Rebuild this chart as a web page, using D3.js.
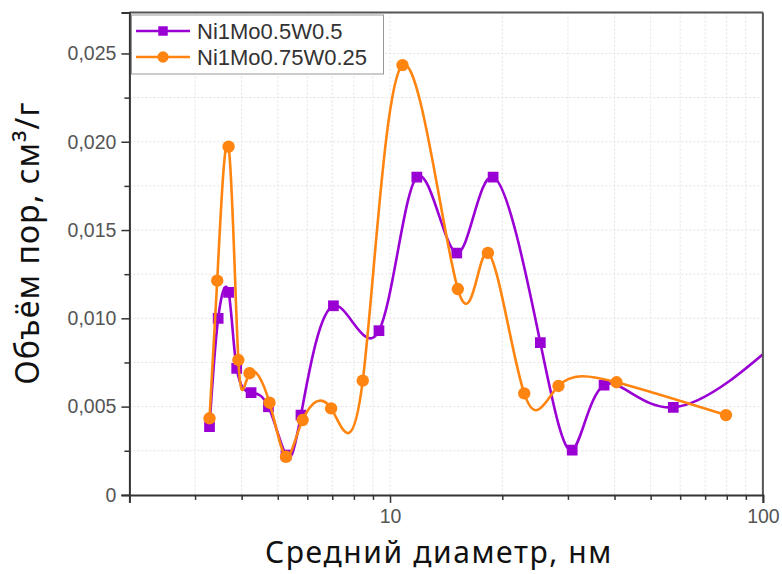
<!DOCTYPE html>
<html>
<head>
<meta charset="utf-8">
<script src="https://cdn.jsdelivr.net/npm/d3@7"></script>
<style>
  body { margin: 0; background: #fff; }
  svg { display: block; }
</style>
</head>
<body>
<svg id="chart" width="782" height="574"></svg>
<script>
//series data (diameter in nm, pore volume in cm3/g)
var purpleName = "Ni1Mo0.5W0.5",
    purpleX = [3.28, 3.46, 3.69, 3.88, 4.24, 4.72, 5.26, 5.77, 7.05, 9.34, 11.8, 15.1, 18.9, 25.3, 30.8, 37.5, 57.5, 120],
    purpleY = [0.00386, 0.0100, 0.01147, 0.00717, 0.00579, 0.00499, 0.00226, 0.00452, 0.01071, 0.0093, 0.0180, 0.0137, 0.0180, 0.00862, 0.00254, 0.00622, 0.00496, 0.0094];

var orangeName = "Ni1Mo0.75W0.25",
    orangeX = [3.28, 3.44, 3.69, 3.92, 4.20, 4.75, 5.26, 5.83, 6.95, 8.45, 10.8, 15.2, 18.3, 22.9, 28.3, 40.5, 79.6],
    orangeY = [0.00434, 0.01213, 0.01972, 0.00764, 0.00689, 0.00522, 0.00216, 0.00424, 0.0049, 0.00647, 0.02434, 0.01166, 0.0137, 0.00575, 0.00617, 0.00638, 0.00452];

//axis ticks
var yTicks = [0, 0.005, 0.010, 0.015, 0.020, 0.025],
    yMinor = [0.0025, 0.0075, 0.0125, 0.0175, 0.0225],
    xTicks = [10, 100],
    xMinor = [2, 3, 4, 5, 6, 7, 8, 9, 20, 30, 40, 50, 60, 70, 80, 90],
    xTitle = "Средний диаметр, нм",
    yTitle = "Объём пор, см³/г";

var svg = d3.select("#chart"),
    margin = {left: 129.4, right: 762.9, top: 12.5, bottom: 494.9}, //plot box edges in pixels
    purple = "#9a00d4",
    orange = "#ff8410";

var x = d3.scaleLog().domain([2, 100]).range([margin.left, margin.right]),
    y = d3.scaleLinear().domain([0, 0.02732]).range([margin.bottom, margin.top]);

var comma = d3.formatLocale({decimal: ",", thousands: " ", grouping: [3], currency: ["", ""]});
var fmt = function (d) { return d === 0 ? "0" : comma.format(".3f")(d); };

svg.append("rect").attr("width", 782).attr("height", 574).attr("fill", "#fff");

//dotted grid
var grid = svg.append("g").attr("stroke", "#e2e2e2").attr("stroke-width", 1).attr("stroke-dasharray", "2,2");
grid.selectAll(".gy").data(yTicks.concat(yMinor).filter(function (d) { return d > 0; })).enter().append("line")
    .attr("x1", margin.left).attr("x2", margin.right)
    .attr("y1", function (d) { return y(d); }).attr("y2", function (d) { return y(d); });
grid.selectAll(".gx").data(xTicks.concat(xMinor).filter(function (d) { return d > 2 && d < 100; })).enter().append("line")
    .attr("y1", margin.top).attr("y2", margin.bottom)
    .attr("x1", function (d) { return x(d); }).attr("x2", function (d) { return x(d); });

svg.append("defs").append("clipPath").attr("id", "plotClip")
    .append("rect").attr("x", margin.left).attr("y", margin.top)
    .attr("width", margin.right - margin.left).attr("height", margin.bottom - margin.top);

//curves and markers
function drawSeries(xs, ys, color, shape) {
    var pts = xs.map(function (d, i) { return [d, ys[i]]; });
    var g = svg.append("g").attr("clip-path", "url(#plotClip)");
    g.append("path").datum(pts)
        .attr("fill", "none").attr("stroke", color).attr("stroke-width", 2.6)
        .attr("d", d3.line().x(function (d) { return x(d[0]); }).y(function (d) { return y(d[1]); }).curve(d3.curveNatural));
    var sym = d3.symbol().type(shape).size(shape === d3.symbolSquare ? 115 : 120);
    g.selectAll(".m").data(pts).enter().append("path")
        .attr("d", sym).attr("fill", color)
        .attr("transform", function (d) { return "translate(" + x(d[0]) + "," + y(d[1]) + ")"; });
}
drawSeries(purpleX, purpleY, purple, d3.symbolSquare);
drawSeries(orangeX, orangeY, orange, d3.symbolCircle);

//frame
svg.append("line").attr("x1", margin.left).attr("x2", margin.right).attr("y1", margin.top).attr("y2", margin.top).attr("stroke", "#555").attr("stroke-width", 2);
svg.append("line").attr("x1", margin.right).attr("x2", margin.right).attr("y1", margin.top).attr("y2", margin.bottom).attr("stroke", "#555").attr("stroke-width", 2);

//axes
svg.append("g").attr("transform", "translate(0," + margin.bottom + ")")
    .call(d3.axisBottom(x).tickValues(xTicks).tickFormat(d3.format("d")).tickSize(8).tickPadding(6));
svg.append("g").attr("transform", "translate(0," + margin.bottom + ")")
    .call(d3.axisBottom(x).tickValues(xMinor).tickFormat("").tickSize(5))
    .select(".domain").remove();
svg.append("g").attr("transform", "translate(" + margin.left + ",0)")
    .call(d3.axisLeft(y).tickValues(yTicks).tickFormat(fmt).tickSize(8).tickPadding(5));
svg.append("g").attr("transform", "translate(" + margin.left + ",0)")
    .call(d3.axisLeft(y).tickValues(yMinor).tickFormat("").tickSize(5))
    .select(".domain").remove();

svg.selectAll(".tick line").attr("stroke", "#333").attr("stroke-width", 1.5);
svg.selectAll(".domain").attr("stroke", "#333").attr("stroke-width", 2);
svg.selectAll(".tick text").attr("fill", "#555").style("font-family", "Liberation Sans, Arial, sans-serif").style("font-size", "19.5px");

//titles
svg.append("text").attr("x", 439).attr("y", 563).attr("text-anchor", "middle")
    .style("font-family", "Noto Sans, sans-serif").style("font-size", "30px").style("letter-spacing", "1.6px").attr("fill", "#111")
    .text(xTitle);
svg.append("text").attr("transform", "translate(39,243) rotate(-90)").attr("text-anchor", "middle")
    .style("font-family", "Noto Sans, sans-serif").style("font-size", "32px").style("letter-spacing", "1.1px").attr("fill", "#111")
    .text(yTitle);

//legend
var legend = svg.append("g");
legend.append("rect").attr("x", 131.5).attr("y", 15).attr("width", 252).attr("height", 59)
    .attr("fill", "#fff").attr("stroke", "#999").attr("stroke-width", 1);
[[purpleName, purple, d3.symbolSquare], [orangeName, orange, d3.symbolCircle]].forEach(function (s, i) {
    var cy = 31 + i * 26;
    legend.append("line").attr("x1", 136).attr("x2", 190).attr("y1", cy).attr("y2", cy)
        .attr("stroke", s[1]).attr("stroke-width", 2.6);
    legend.append("path").attr("d", d3.symbol().type(s[2]).size(s[2] === d3.symbolSquare ? 90 : 100))
        .attr("fill", s[1]).attr("transform", "translate(163," + cy + ")");
    legend.append("text").attr("x", 197).attr("y", cy + 8)
        .style("font-family", "Liberation Sans, Arial, sans-serif").style("font-size", "22px").attr("fill", "#333")
        .text(s[0]);
});
</script>
</body>
</html>
